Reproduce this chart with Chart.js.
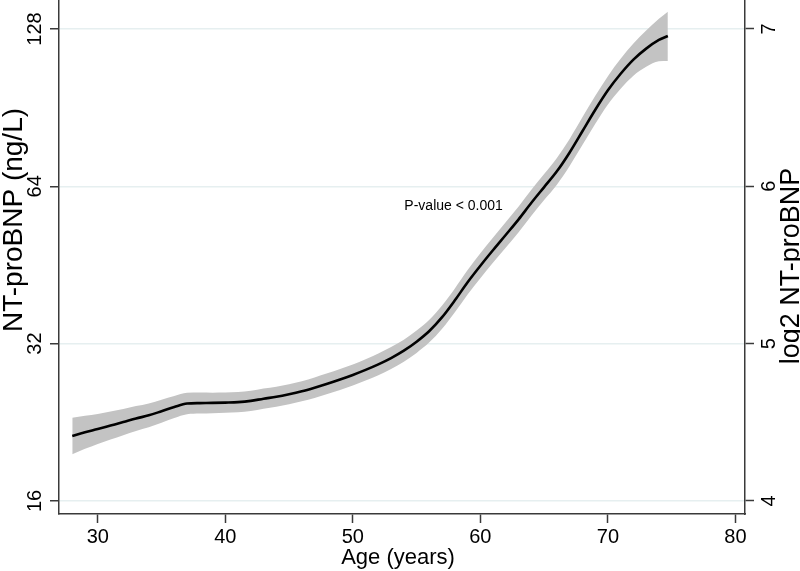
<!DOCTYPE html>
<html>
<head>
<meta charset="utf-8">
<script src="https://cdn.jsdelivr.net/npm/chart.js@4/dist/chart.umd.min.js"></script>
<style>
  html, body { margin: 0; padding: 0; background: #ffffff; }
  #wrap { width: 800px; height: 571px; position: relative; }
</style>
</head>
<body>
<div id="wrap"><canvas id="c" width="800" height="571"></canvas></div>
<script>
// ---- data (log2 NT-proBNP) ----
const ages = [28,29,30,31,32,33,34,35,36,37,38,39,40,41,42,43,44,45,46,47,48,49,50,51,52,53,54,55,56,57,58,59,60,61,62,63,64,65,66,67,68,69,70,71,72,73,74,74.7];
const fitLog2 = [4.413,4.436,4.457,4.479,4.501,4.524,4.544,4.570,4.597,4.619,4.622,4.623,4.625,4.628,4.636,4.650,4.662,4.678,4.697,4.720,4.745,4.772,4.801,4.833,4.868,4.908,4.955,5.012,5.080,5.168,5.275,5.390,5.495,5.595,5.692,5.790,5.895,5.995,6.095,6.215,6.350,6.485,6.610,6.715,6.805,6.875,6.930,6.955];
const lowerLog2 = [4.297,4.331,4.362,4.390,4.418,4.445,4.468,4.497,4.527,4.551,4.555,4.558,4.561,4.564,4.572,4.586,4.598,4.614,4.633,4.655,4.679,4.705,4.734,4.765,4.799,4.838,4.885,4.941,5.008,5.094,5.199,5.312,5.416,5.515,5.611,5.708,5.812,5.912,6.010,6.129,6.262,6.396,6.520,6.620,6.703,6.760,6.795,6.797];
const upperLog2 = [4.529,4.541,4.552,4.568,4.584,4.603,4.620,4.643,4.667,4.687,4.689,4.688,4.689,4.692,4.700,4.714,4.726,4.742,4.761,4.785,4.811,4.839,4.868,4.901,4.937,4.978,5.025,5.083,5.152,5.242,5.351,5.468,5.574,5.675,5.773,5.872,5.978,6.078,6.180,6.301,6.438,6.574,6.700,6.810,6.907,6.990,7.065,7.110];

const xTicks = [30,40,50,60,70,80];
const yTicksLog2 = [4,5,6,7];
const leftTickLabels = ['16','32','64','128'];
const rightTickLabels = ['4','5','6','7'];
const xTitle = 'Age (years)';
const leftTitle = 'NT-proBNP (ng/L)';
const rightTitle = 'log2 NT-proBNP';
const annotationText = 'P-value < 0.001';
const annotationAt = [57.9, 5.875];

// ---- styling ----
const FONT = '"Liberation Sans", Arial, sans-serif';
const AXIS = '#3a3a3a';
const GRID = '#e6eff0';
const BAND = '#c3c3c3';

const toXY = (arr) => ages.map((a, i) => ({x: a, y: arr[i]}));

const textPlugin = {
  id: 'texts',
  afterDraw(chart) {
    const ctx = chart.ctx;
    const sx = chart.scales.x, sy = chart.scales.y, sy2 = chart.scales.y2;
    ctx.save();
    ctx.fillStyle = '#000';
    ctx.textBaseline = 'alphabetic';
    ctx.textAlign = 'center';
    ctx.font = '20px ' + FONT;
    xTicks.forEach(v => ctx.fillText(String(v), sx.getPixelForValue(v), 543));
    ctx.font = '22px ' + FONT;
    ctx.fillText(xTitle, 398, 564);
    const rot = (txt, x, y, font) => {
      ctx.save();
      ctx.translate(x, y);
      ctx.rotate(-Math.PI / 2);
      ctx.font = font;
      ctx.textAlign = 'center';
      ctx.fillText(txt, 0, 0);
      ctx.restore();
    };
    yTicksLog2.forEach((v, i) => rot(leftTickLabels[i], 41, sy.getPixelForValue(v), '20px ' + FONT));
    yTicksLog2.forEach((v, i) => rot(rightTickLabels[i], 775, sy2.getPixelForValue(v), '20px ' + FONT));
    rot(leftTitle, 22, 220, '28px ' + FONT);
    rot(rightTitle, 799, 266, '27px ' + FONT);
    ctx.font = '14px ' + FONT;
    ctx.textBaseline = 'middle';
    ctx.fillText(annotationText, sx.getPixelForValue(annotationAt[0]), sy.getPixelForValue(annotationAt[1]));
    ctx.restore();
  }
};

new Chart(document.getElementById('c'), {
  type: 'line',
  data: {
    datasets: [
      { data: toXY(fitLog2), borderWidth: 2.6, pointRadius: 0, fill: false, borderColor: '#000', cubicInterpolationMode: 'monotone' },
      { data: toXY(lowerLog2), borderWidth: 0, pointRadius: 0, fill: false, borderColor: 'rgba(0,0,0,0)', cubicInterpolationMode: 'monotone' },
      { data: toXY(upperLog2), borderWidth: 0, pointRadius: 0, fill: '-1', backgroundColor: BAND, borderColor: 'rgba(0,0,0,0)', cubicInterpolationMode: 'monotone' }
    ]
  },
  options: {
    responsive: false,
    animation: false,
    events: [],
    layout: { padding: 0 },
    plugins: { legend: { display: false }, tooltip: { enabled: false } },
    scales: {
      x: {
        type: 'linear', min: 26.96, max: 80.75,
        afterBuildTicks: (s) => { s.ticks = xTicks.map(v => ({value: v})); },
        afterFit: (s) => { s.height = 57; },
        ticks: { display: false },
        grid: { drawOnChartArea: false, drawTicks: true, tickLength: 9, tickColor: AXIS, tickWidth: 1.5 },
        border: { display: true, color: AXIS, width: 1.5 }
      },
      y: {
        type: 'linear', position: 'left', min: 3.917, max: 7.184,
        afterBuildTicks: (s) => { s.ticks = yTicksLog2.map(v => ({value: v})); },
        afterFit: (s) => { s.width = 59; },
        ticks: { display: false },
        grid: { drawOnChartArea: true, color: GRID, lineWidth: 1.5, drawTicks: true, tickLength: 9, tickColor: AXIS, tickWidth: 1.5 },
        border: { display: true, color: AXIS, width: 1.5 }
      },
      y2: {
        type: 'linear', position: 'right', min: 3.917, max: 7.184,
        afterBuildTicks: (s) => { s.ticks = yTicksLog2.map(v => ({value: v})); },
        afterFit: (s) => { s.width = 55; },
        ticks: { display: false },
        grid: { drawOnChartArea: false, drawTicks: true, tickLength: 9, tickColor: AXIS, tickWidth: 1.5 },
        border: { display: true, color: AXIS, width: 1.5 }
      }
    }
  },
  plugins: [textPlugin]
});
</script>
</body>
</html>
